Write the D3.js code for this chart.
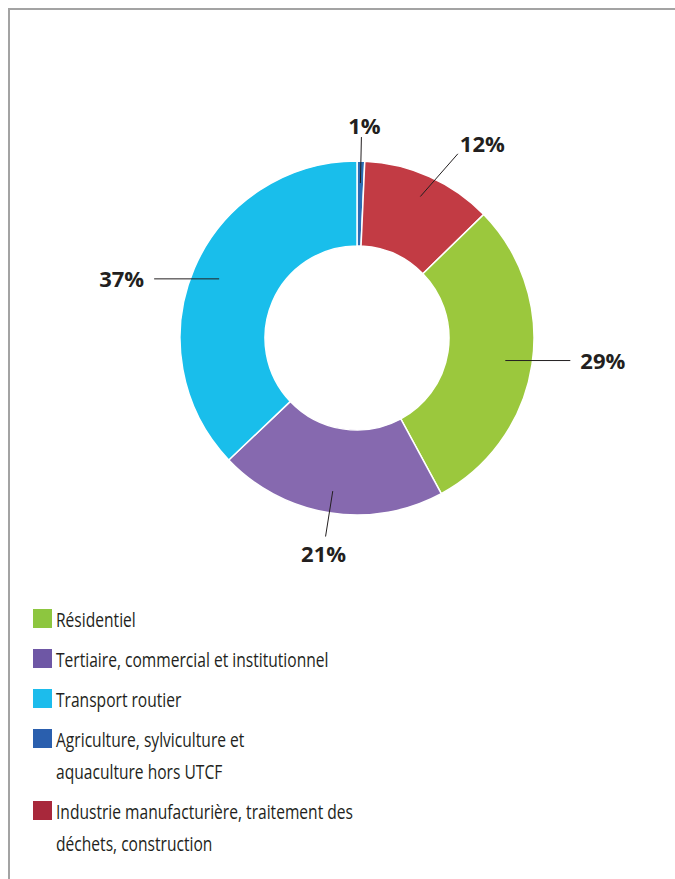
<!DOCTYPE html>
<html>
<head>
<meta charset="utf-8">
<script src="https://cdn.jsdelivr.net/npm/d3@7"></script>
<style>
body { margin: 0; background: #fff; }
svg { display: block; }
.pct { font-family: "Open Sans", "DejaVu Sans", sans-serif; font-weight: 700; font-size: 22px; fill: #231f20; }
.leg { font-family: "Open Sans", "DejaVu Sans", sans-serif; font-size: 20px; fill: #231f20; }
</style>
</head>
<body>
<div id="chart"></div>
<script>
// slices, clockwise from 12 o'clock
var sectors = ["Agriculture", "Industrie", "Résidentiel", "Tertiaire", "Transport"];
var shares = [0.7, 12.0, 29.4, 20.8, 37.1];
var pctLabels = ["1%", "12%", "29%", "21%", "37%"];
var sliceColors = ["#2b6cb3", "#c23b44", "#9bc83d", "#8669af", "#19beeb"];

// legend, top to bottom
var legendLines = [
  ["Résidentiel"],
  ["Tertiaire, commercial et institutionnel"],
  ["Transport routier"],
  ["Agriculture, sylviculture et", "aquaculture hors UTCF"],
  ["Industrie manufacturière, traitement des", "déchets, construction"]
];
var legendColors = ["#8dc63f", "#6e57a5", "#1cbcec", "#2a5fae", "#a8283b"];

var W = 675, H = 879;
var cx = 357, cy = 338, outerR = 177, innerR = 92;

var svg = d3.select("#chart").append("svg")
  .attr("width", W)
  .attr("height", H);

// frame (top and left only)
svg.append("path")
  .attr("d", "M9,879 V9 H675")
  .attr("fill", "none")
  .attr("stroke", "#a3a3a3")
  .attr("stroke-width", 2);

var data = sectors.map((s, i) => ({ name: s, value: shares[i], label: pctLabels[i], color: sliceColors[i] }));

var pie = d3.pie().sort(null).value(d => d.value);
var arc = d3.arc().innerRadius(innerR).outerRadius(outerR);
var arcs = pie(data);

var g = svg.append("g").attr("transform", "translate(" + cx + "," + cy + ")");

g.selectAll(".slice")
  .data(arcs)
  .enter().append("path")
  .attr("class", "slice")
  .attr("d", arc)
  .attr("fill", d => d.data.color)
  .attr("stroke", "#fff")
  .attr("stroke-width", 1.5);

// leader lines + labels
function pt(a, r) { return [Math.sin(a) * r, -Math.cos(a) * r]; }

arcs.forEach(function(d) {
  var a = (d.startAngle + d.endAngle) / 2;
  var side = Math.abs(Math.sin(a)) > 0.9;
  var p0, p1, tx, ty, anchor;
  if (side) {
    p0 = pt(a, 150);
    var dir = Math.sin(a) > 0 ? 1 : -1;
    p1 = [p0[0] + dir * 65, p0[1]];
    tx = p1[0] + dir * 10;
    ty = p1[1] + 8;
    anchor = dir > 0 ? "start" : "end";
  } else {
    var below = Math.cos(a) < 0;
    p0 = pt(a, 155);
    if (below) {
      p1 = pt(a, 201);
      tx = p1[0] - 2; ty = p1[1] + 25; anchor = "middle";
    } else if (Math.abs(Math.sin(a)) < 0.1) {
      p1 = pt(a, 201);
      tx = p1[0] + 3; ty = p1[1] - 3; anchor = "middle";
    } else {
      p1 = pt(a + 0.08, 210);
      tx = p1[0] + 2; ty = p1[1] - 2; anchor = "start";
    }
  }
  g.append("line")
    .attr("x1", p0[0]).attr("y1", p0[1])
    .attr("x2", p1[0]).attr("y2", p1[1])
    .attr("stroke", "#231f20")
    .attr("stroke-width", 1);
  g.append("text")
    .attr("class", "pct")
    .attr("x", tx).attr("y", ty)
    .attr("text-anchor", anchor)
    .text(d.data.label);
});

// legend (condensed look: squeeze text horizontally)
var y0 = 609;
var leg = svg.append("g");
legendLines.forEach(function(lines, i) {
  leg.append("rect")
    .attr("x", 33).attr("y", y0)
    .attr("width", 19).attr("height", 19)
    .attr("fill", legendColors[i]);
  lines.forEach(function(t, j) {
    leg.append("text")
      .attr("class", "leg")
      .attr("transform", "translate(56," + (y0 + 18 + j * 32) + ") scale(0.78,1)")
      .text(t);
  });
  y0 += 40 + (lines.length - 1) * 32;
});
</script>
</body>
</html>
